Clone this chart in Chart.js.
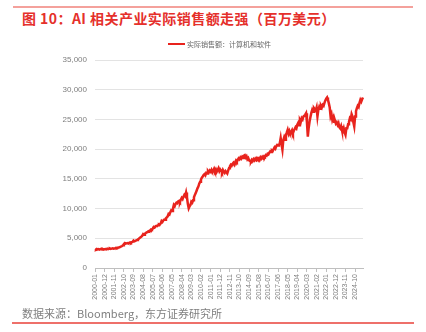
<!DOCTYPE html>
<html><head><meta charset="utf-8">
<script src="https://cdn.jsdelivr.net/npm/chart.js@4/dist/chart.umd.min.js"></script>
<style>
html,body{margin:0;padding:0;background:#fff;}
#wrap{position:relative;width:426px;height:332px;overflow:hidden;background:#fff;}
#topline{position:absolute;left:13px;top:6px;width:400px;height:2px;background:#f4a19c;}
#title{position:absolute;left:22px;top:8px;font:bold 14px "Noto Sans CJK SC",sans-serif;letter-spacing:0.45px;color:#e5302b;white-space:nowrap;}
#legend{position:absolute;left:168px;top:38px;height:12px;white-space:nowrap;font:7px "Noto Sans CJK SC",sans-serif;color:#666;}
#legend span.ln{display:inline-block;width:17px;height:2px;background:#e8231d;vertical-align:middle;margin-right:2px;}
#legend span.tx{vertical-align:middle;}
#foot{position:absolute;left:22px;top:305px;font:11px "Noto Sans CJK SC",sans-serif;color:#7f7f7f;white-space:nowrap;}
#botline{position:absolute;left:12px;top:322px;width:402px;height:1.5px;background:#ee706a;}
#c{position:absolute;left:0;top:0;}
</style></head>
<body>
<div id="wrap">
<div id="topline"></div>
<div id="title">图 10：AI 相关产业实际销售额走强（百万美元）</div>
<canvas id="c" width="426" height="332"></canvas>
<div id="legend"><span class="ln"></span><span class="tx" id="legtx"></span></div>
<div id="foot">数据来源：Bloomberg，东方证券研究所</div>
<div id="botline"></div>
</div>
<script>
const seriesName = '实际销售额：计算机和软件';
const startYear = 2000;
const tickEvery = 11;
const yTicks = [0, 5000, 10000, 15000, 20000, 25000, 30000, 35000];
const sales = [
 3150,3100,3200,3120,3180,3090,3160,3210,3130,3190,3110,3170,
 3200,3150,3250,3180,3230,3280,3210,3260,3300,3240,3290,3320,
 3380,3340,3420,3460,3500,3560,3620,3700,3820,4050,4200,4100,
 4150,4200,4120,4250,4300,4220,4350,4400,4600,4480,4550,4650,
 4700,4800,4900,5050,5150,5300,5450,5700,5600,5750,5900,6000,
 6050,6200,6150,6350,6500,6450,6650,6900,6800,7000,7100,7050,
 7200,7350,7300,7500,7900,7750,8000,8150,8100,8350,8500,8700,
 9100,9000,9400,9700,9600,10000,10600,10400,10800,11000,10900,11200,
 11300,11100,11500,11800,11600,12000,12300,12100,12700,11900,10800,10050,
 10400,10600,11150,11000,11400,11900,12300,12600,13000,13400,13700,14200,
 14500,14900,15200,15400,15650,15800,15600,16000,15900,16300,16100,16400,
 16200,16500,16100,16400,16700,16300,16600,16200,16500,16800,16300,16600,
 16400,16100,16500,16200,16000,16300,16100,15900,16400,16800,17100,17350,
 17200,17500,17700,17400,17800,18100,17900,18200,18450,18300,18600,18400,
 18700,18500,18900,19000,18600,18800,18300,18500,18100,18000,17900,18200,
 18000,18300,18100,18400,18200,18500,18300,18450,18200,18600,18400,18700,
 18500,18800,18700,19000,18900,19200,19100,19400,19600,19500,19800,19700,
 20000,20300,20100,20500,20700,20600,20700,21000,21850,20800,19900,21500,
 22000,21600,22400,22800,23250,22600,23000,22500,22900,23200,22700,23100,
 23400,23700,23500,24100,24400,24000,24900,24600,25200,25000,25500,25600,
 25800,26050,24500,22100,23600,24650,25400,26100,26600,26300,26900,26700,
 26500,27000,25500,26600,27100,26800,27300,27000,27450,27300,27800,28200,
 28500,28700,28300,27700,27000,25500,25900,24900,25300,24600,24800,24300,
 24500,24100,24400,23700,23500,23900,23200,23000,23500,22800,22400,23500,
 23500,24200,24600,25200,25000,25900,25500,24500,23800,25500,26400,26900,
 27300,27100,27800,28300,28000,28400,28700
];
const months = [];
for (let i = 0; i < sales.length; i++) {
  const y = startYear + Math.floor(i / 12);
  const m = (i % 12) + 1;
  months.push(y + '-' + (m < 10 ? '0' + m : m));
}
document.getElementById('legtx').textContent = seriesName;
const txtFont = '"Liberation Sans","Noto Sans CJK SC",sans-serif';
new Chart(document.getElementById('c'), {
  type: 'line',
  data: {
    labels: months,
    datasets: [{
      label: seriesName,
      data: sales,
      borderColor: '#e8231d',
      backgroundColor: '#e8231d',
      borderWidth: 2.5,
      pointRadius: 0,
      tension: 0
    }]
  },
  options: {
    responsive: false,
    animation: false,
    layout: { padding: { top: 60, right: 63, bottom: 30, left: 0 } },
    plugins: {
      legend: { display: false },
      tooltip: { enabled: false }
    },
    scales: {
      x: {
        type: 'category',
        afterFit: s => { s.height = 34; },
        afterBuildTicks: s => { s.ticks = s.ticks.filter(t => t.value % tickEvery === 0); },
        grid: { drawOnChartArea: false, drawTicks: true, tickLength: 4, color: '#bfbfbf' },
        border: { display: true, color: '#bfbfbf' },
        ticks: {
          autoSkip: false, maxRotation: 90, minRotation: 90, padding: 2,
          color: '#7f7f7f', font: { size: 7, family: txtFont }
        }
      },
      y: {
        min: 0, max: 35000,
        afterFit: s => { s.width = 95; },
        afterBuildTicks: s => { s.ticks = yTicks.map(v => ({ value: v })); },
        grid: { color: '#e3e3e3', drawTicks: false, lineWidth: 1 },
        border: { display: false },
        ticks: {
          padding: 8, color: '#7f7f7f', font: { size: 8, family: txtFont },
          callback: v => v.toLocaleString('en-US')
        }
      }
    }
  }
});
</script>
</body></html>
